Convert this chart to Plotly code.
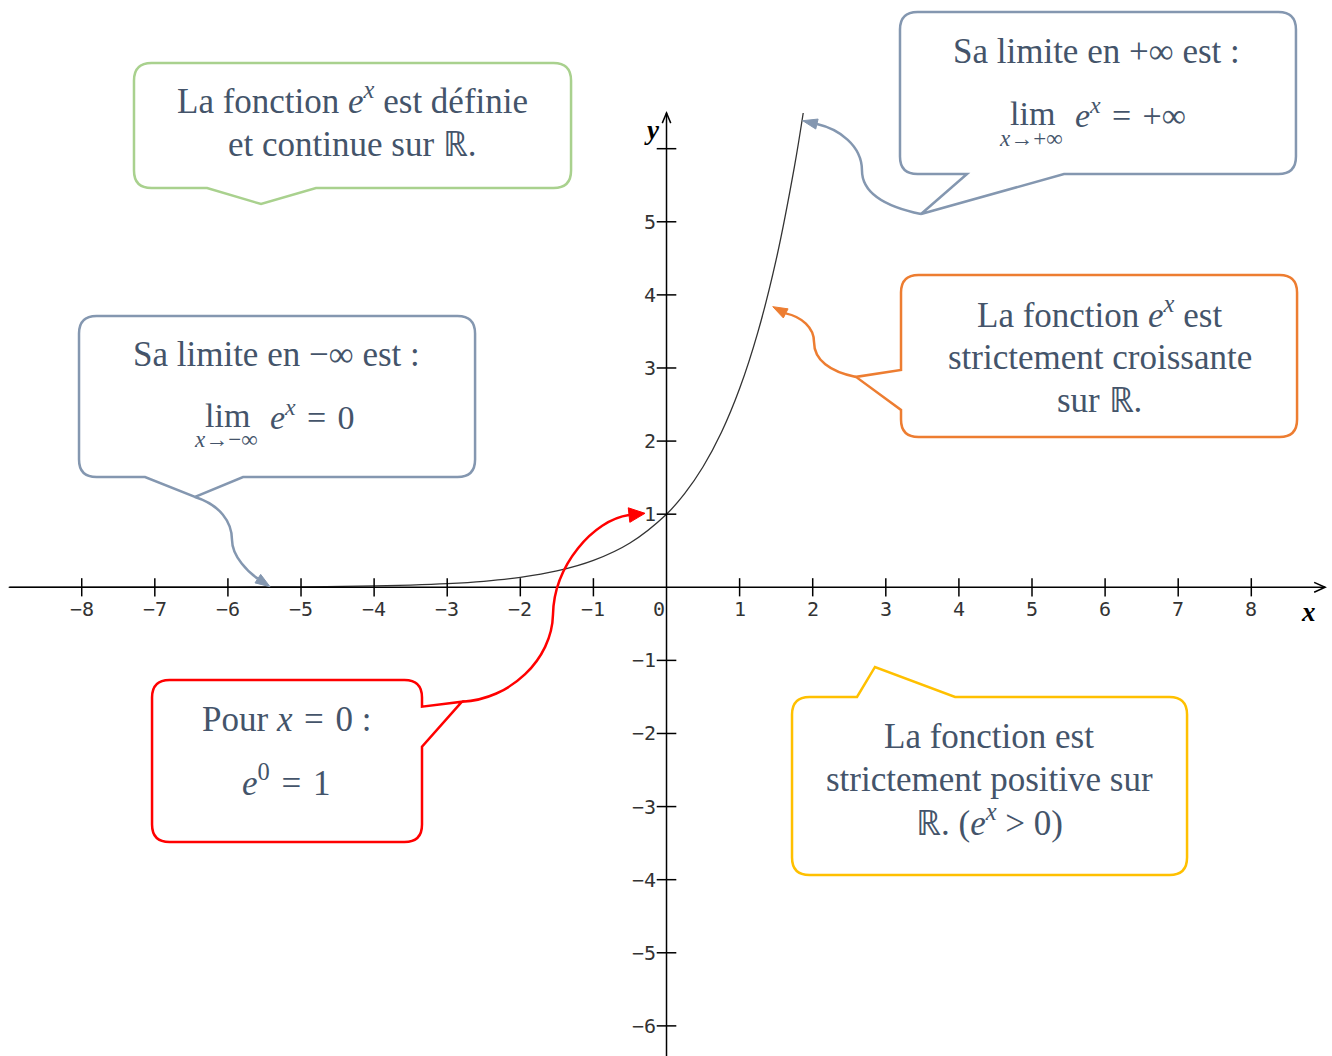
import plotly.graph_objects as go
import math

# ---------------- data ----------------
curve_x = [-9, -7, -6, -5, -4, -3.5, -3, -2.5, -2, -1.5, -1, -0.5, 0, 0.25, 0.5, 0.75, 1, 1.25, 1.5, 1.75, 1.87]
curve_y = [0.0001, 0.0009, 0.0025, 0.0067, 0.0183, 0.0302, 0.0498, 0.0821, 0.1353, 0.2231, 0.3679,
           0.6065, 1.0, 1.284, 1.6487, 2.117, 2.7183, 3.4903, 4.4817, 5.7546, 6.4883]

x_tick_values = [-8, -7, -6, -5, -4, -3, -2, -1, 1, 2, 3, 4, 5, 6, 7, 8]
x_tick_labels = ["−8", "−7", "−6", "−5", "−4", "−3", "−2", "−1", "1", "2", "3", "4", "5", "6", "7", "8"]
y_tick_values = [-6, -5, -4, -3, -2, -1, 1, 2, 3, 4, 5, 6]
y_tick_labels = ["−6", "−5", "−4", "−3", "−2", "−1", "1", "2", "3", "4", "5", ""]
origin_label = "0"

# ---------------- layout constants ----------------
X_RANGE = [-9.118, 9.104]
Y_RANGE = [-6.412, 8.034]
TEXT_COLOR = "#44546a"
TEXT_FONT = "Liberation Serif"
GREEN, BLUE, ORANGE, RED, YELLOW = "#a9d18e", "#8497b0", "#ed7d31", "#ff0000", "#ffc000"
SP = "\u2004"

fig = go.Figure()

# curve
fig.add_trace(go.Scatter(x=curve_x, y=curve_y, mode="lines",
                         line=dict(color="#333333", width=1.3, shape="spline", smoothing=1.0),
                         hoverinfo="skip"))

# tick marks
fig.add_trace(go.Scatter(x=x_tick_values, y=[0] * len(x_tick_values), mode="markers",
                         marker=dict(symbol="line-ns", size=13, line=dict(color="black", width=1.5)),
                         hoverinfo="skip"))
fig.add_trace(go.Scatter(x=[0] * len(y_tick_values), y=y_tick_values, mode="markers",
                         marker=dict(symbol="line-ew", size=14, line=dict(color="black", width=1.5)),
                         hoverinfo="skip"))

shapes = []
annotations = []

# axes lines + open arrowheads
shapes.append(dict(type="line", xref="x", yref="y", x0=-8.99, x1=9.01, y0=0, y1=0,
                   line=dict(color="black", width=1.5)))
shapes.append(dict(type="line", xref="x", yref="y", x0=0, x1=0, y0=Y_RANGE[0], y1=6.49,
                   line=dict(color="black", width=1.5)))
shapes.append(dict(type="path", xref="x", yref="y", path="M 8.86,0.068 L 9.01,0 L 8.86,-0.068",
                   line=dict(color="black", width=1.5)))
shapes.append(dict(type="path", xref="x", yref="y", path="M -0.058,6.35 L 0,6.49 L 0.058,6.35",
                   line=dict(color="black", width=1.5)))

tick_font = dict(family="DejaVu Sans Mono", size=20, color="#333333")
for v, t in zip(x_tick_values, x_tick_labels):
    annotations.append(dict(x=v, y=0, xref="x", yref="y", text=t, showarrow=False,
                            xanchor="center", yanchor="middle", yshift=-22, font=tick_font))
for v, t in zip(y_tick_values, y_tick_labels):
    if t:
        annotations.append(dict(x=0, y=v, xref="x", yref="y", text=t, showarrow=False,
                                xanchor="right", yanchor="middle", xshift=-9, font=tick_font))
annotations.append(dict(x=0, y=0, xref="x", yref="y", text=origin_label, showarrow=False,
                        xanchor="center", yanchor="middle", xshift=-8, yshift=-22, font=tick_font))
annotations.append(dict(x=8.776, y=-0.338, xref="x", yref="y", text="<b><i>x</i></b>", showarrow=False,
                        font=dict(family="Liberation Serif", size=27, color="black")))
annotations.append(dict(x=-0.198, y=6.255, xref="x", yref="y", text="<b><i>y</i></b>", showarrow=False,
                        font=dict(family="Liberation Serif", size=27, color="black")))


def f(p):
    return f"{p[0]:.4f},{p[1]:.4f}"


def callout_path(x0, x1, y0, y1, side, a, tip, b, r=0.24):
    s = [f"M {f((x0 + r, y1))}"]
    if side == "top":
        s += [f"L {f((a, y1))}", f"L {f(tip)}", f"L {f((b, y1))}"]
    s += [f"L {f((x1 - r, y1))}", f"Q {f((x1, y1))} {f((x1, y1 - r))}"]
    if side == "right":
        s += [f"L {f((x1, a))}", f"L {f(tip)}", f"L {f((x1, b))}"]
    s += [f"L {f((x1, y0 + r))}", f"Q {f((x1, y0))} {f((x1 - r, y0))}"]
    if side == "bottom":
        s += [f"L {f((b, y0))}", f"L {f(tip)}", f"L {f((a, y0))}"]
    s += [f"L {f((x0 + r, y0))}", f"Q {f((x0, y0))} {f((x0, y0 + r))}"]
    if side == "left":
        s += [f"L {f((x0, b))}", f"L {f(tip)}", f"L {f((x0, a))}"]
    s += [f"L {f((x0, y1 - r))}", f"Q {f((x0, y1))} {f((x0 + r, y1))}", "Z"]
    return " ".join(s)


def add_callout(color, x0, x1, y0, y1, side, a, tip, b):
    shapes.append(dict(type="path", xref="x", yref="y", path=callout_path(x0, x1, y0, y1, side, a, tip, b),
                       line=dict(color=color, width=2.5), fillcolor="white", layer="above"))


def add_connector(color, start, segs, arrow_tip, length=0.2, hw=0.07):
    s = [f"M {f(start)}"]
    for c1, c2, e in segs:
        s.append(f"C {f(c1)} {f(c2)} {f(e)}")
    shapes.append(dict(type="path", xref="x", yref="y", path=" ".join(s),
                       line=dict(color=color, width=2.5), layer="above"))
    base = segs[-1][2]
    dx, dy = arrow_tip[0] - base[0], arrow_tip[1] - base[1]
    n = math.hypot(dx, dy)
    ux, uy = dx / n, dy / n
    bx, by = arrow_tip[0] - ux * length, arrow_tip[1] - uy * length
    p1 = (bx - uy * hw, by + ux * hw)
    p2 = (bx + uy * hw, by - ux * hw)
    shapes.append(dict(type="path", xref="x", yref="y",
                       path=f"M {f(arrow_tip)} L {f(p1)} L {f(p2)} Z",
                       line=dict(color=color, width=1), fillcolor=color, layer="above"))


def add_text(x, y, text, size=35, xanchor="center"):
    annotations.append(dict(x=x, y=y, xref="x", yref="y", text=text, showarrow=False,
                            xanchor=xanchor, yanchor="middle", align="center",
                            font=dict(family=TEXT_FONT, size=size, color=TEXT_COLOR)))


def add_lines(x, ys, lines, size=35):
    for y, t in zip(ys, lines):
        add_text(x, y, t, size=size)


EX = "<i>e</i><sup><i>x</i></sup>"

# green callout
add_callout(GREEN, -7.285, -1.306, 5.462, 7.172, "bottom", -6.285, (-5.547, 5.243), -4.795)
add_lines(-4.296, [6.692, 6.064], [f"La fonction {EX} est définie", "et continue sur ℝ."])

# blue top-right callout
add_callout(BLUE, 3.194, 8.611, 5.654, 7.870, "bottom", 4.111, (3.482, 5.106), 5.438)
add_connector(BLUE, (3.482, 5.106),
              [((2.921, 5.223), (2.674, 5.428), (2.674, 5.702)),
               ((2.674, 6.05), (2.35, 6.27), (2.058, 6.337))],
              (1.863, 6.383))
add_text(5.889, 7.323, "Sa limite en +∞ est :")
add_text(5.0, 6.487, "lim", size=34)
add_text(4.986, 6.146, "<i>x</i>→+∞", size=23)
add_text(5.566, 6.487, f"{EX}{SP}={SP}+∞", xanchor="left", size=34)

# orange callout
add_callout(ORANGE, 3.208, 8.626, 2.056, 4.272, "left", 2.973, (2.592, 2.878), 2.426)
add_connector(ORANGE, (2.592, 2.878),
              [((2.237, 2.946), (2.018, 3.110), (2.018, 3.356)),
               ((2.018, 3.55), (1.85, 3.70), (1.630, 3.747))],
              (1.453, 3.839))
add_lines(5.930, [3.765, 3.137, 2.549],
          [f"La fonction {EX} est", "strictement croissante", "sur ℝ."])

# blue left callout
add_callout(BLUE, -8.037, -2.619, 1.509, 3.711, "bottom", -7.134, (-6.450, 1.235), -5.793)
add_connector(BLUE, (-6.450, 1.235),
              [((-6.108, 1.126), (-5.944, 0.893), (-5.944, 0.647)),
               ((-5.944, 0.42), (-5.715, 0.20), (-5.59, 0.118))],
              (-5.424, 0.008))
add_text(-5.342, 3.178, "Sa limite en −∞ est :")
add_text(-6.012, 2.356, "lim", size=34)
add_text(-6.026, 2.015, "<i>x</i>→−∞", size=23)
add_text(-5.451, 2.356, f"{EX}{SP}={SP}0", xanchor="left", size=34)

# red callout
add_callout(RED, -7.038, -3.345, -3.484, -1.268, "right", -1.633, (-2.798, -1.565), -2.181)
add_connector(RED, (-2.798, -1.565),
              [((-2.141, -1.536), (-1.566, -0.989), (-1.553, -0.373)),
               ((-1.539, 0.30), (-1.0, 0.92), (-0.513, 0.988))],
              (-0.294, 1.012), length=0.22, hw=0.1)
add_text(-5.205, -1.813, f"Pour <i>x</i>{SP}={SP}0 :")
add_text(-5.205, -2.645, f"<i>e</i><sup>0</sup>{SP}={SP}1")

# yellow callout
add_callout(YELLOW, 1.717, 7.121, -3.936, -1.501, "top", 2.606, (2.852, -1.090), 3.947)
add_lines(4.412, [-2.048, -2.636, -3.184],
          ["La fonction est", "strictement positive sur", f"ℝ. ({EX} &gt; 0)"])

fig.update_layout(
    width=1332, height=1056,
    margin=dict(l=0, r=0, t=0, b=0, pad=0),
    paper_bgcolor="white", plot_bgcolor="white",
    showlegend=False,
    xaxis=dict(range=X_RANGE, visible=False, fixedrange=True),
    yaxis=dict(range=Y_RANGE, visible=False, fixedrange=True),
    shapes=shapes,
    annotations=annotations,
)

fig.write_html("out.html", config={"displayModeBar": False},
               post_script="document.body.style.margin='0';document.body.style.overflow='hidden';")
